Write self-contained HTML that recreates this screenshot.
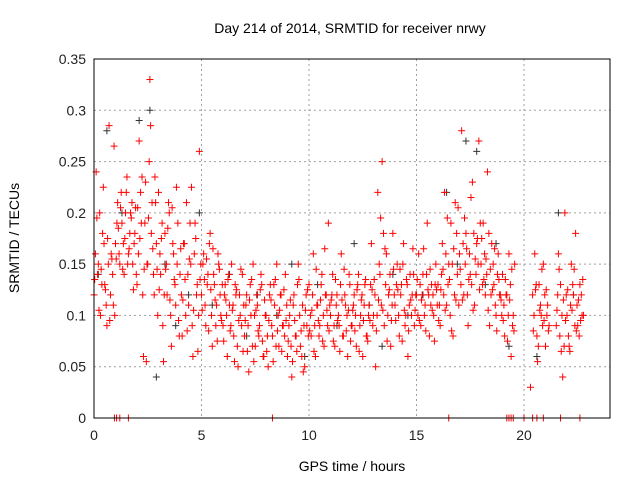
<!DOCTYPE html>
<html><head><meta charset="utf-8"><style>
body{margin:0;background:#fff;}
svg{display:block;font-family:"Liberation Sans",sans-serif;}
</style></head><body>
<svg id="chart" width="640" height="480" viewBox="0 0 640 480">
<text x="350" y="33" font-size="14" text-anchor="middle">Day 214 of 2014, SRMTID for receiver nrwy</text>
<text x="19" y="238" font-size="14" text-anchor="middle" transform="rotate(-90 19 238)">SRMTID / TECUs</text>
<text x="352" y="471" font-size="14" text-anchor="middle">GPS time / hours</text>
<g id="grid"></g><g id="ticks"></g><g id="marks"></g>
<rect x="94" y="59" width="516" height="359" fill="none" stroke="#000" stroke-width="1"/>
</svg>
<script>
const xTicks=[0,5,10,15,20];
const yTicks=[0,0.05,0.1,0.15,0.2,0.25,0.3,0.35];
const yTickLabels=["0","0.05","0.1","0.15","0.2","0.25","0.3","0.35"];
const step=0.1;
const redA=[0.12,0.24,0.15,0.10,0.18,0.13,0.09,0.285,0.16,0.11,
0.17,0.21,0.15,0.19,0.14,0.22,0.16,0.20,0.15,0.18,
0.13,0.27,0.19,0.06,0.23,0.15,0.33,0.21,0.12,0.17,
0.22,0.14,0.09,0.18,0.12,0.20,0.07,0.16,0.11,0.19,
0.14,0.08,0.17,0.21,0.11,0.15,0.06,0.19,0.13,0.26,
0.12,0.16,0.09,0.14,0.18,0.07,0.13,0.11,0.15,0.10,
0.09,0.13,0.06,0.11,0.15,0.08,0.12,0.05,0.10,0.14,
0.08,0.12,0.045,0.10,0.15,0.07,0.11,0.09,0.13,0.06,
0.10,0.05,0.13,0.08,0.11,0.15,0.07,0.12,0.09,0.14,
0.06,0.10,0.04,0.12,0.08,0.15,0.07,0.11,0.05,0.09,
0.13,0.08,0.16,0.06,0.11,0.09,0.14,0.07,0.12,0.19,
0.10,0.14,0.07,0.12,0.09,0.16,0.08,0.11,0.06,0.13,
0.09,0.12,0.07,0.14,0.10,0.06,0.13,0.08,0.11,0.17,
0.10,0.05,0.22,0.14,0.25,0.09,0.16,0.12,0.07,0.18,
0.11,0.15,0.08,0.13,0.17,0.10,0.06,0.14,0.12,0.09,
0.12,0.16,0.09,0.14,0.11,0.19,0.08,0.13,0.10,0.15,
0.13,0.09,0.17,0.22,0.11,0.15,0.19,0.08,0.21,0.14,
0.16,0.28,0.12,0.18,0.09,0.14,0.23,0.11,0.17,0.27,
0.15,0.19,0.12,0.24,0.09,0.17,0.13,0.10,0.16,0.12,
0.14,0.08,0.12,0.16,0.06,0.10,null,null,null,null,
null,null,null,0.03,0.12,0.16,0.08,0.13,0.10,0.15,
0.07,0.11,null,null,null,0.09,0.16,0.13,0.04,0.20,
0.10,0.07,0.15,0.12,0.18,0.09,0.13,0.10];
const redB=[0.16,0.14,0.20,0.13,0.17,0.11,0.15,0.12,0.14,0.10,
0.19,0.16,0.22,0.17,0.20,0.15,0.18,0.21,0.17,0.14,
0.16,0.22,0.12,0.19,0.15,0.25,0.18,0.14,0.21,0.10,
0.16,0.19,0.12,0.15,0.21,0.10,0.17,0.13,0.15,0.08,
0.12,0.17,0.10,0.14,0.19,0.09,0.16,0.12,0.10,0.15,
0.15,0.11,0.13,0.17,0.10,0.14,0.09,0.16,0.12,0.13,
0.12,0.10,0.14,0.09,0.11,0.13,0.07,0.12,0.09,0.11,
0.11,0.09,0.13,0.07,0.10,0.12,0.08,0.14,0.06,0.10,
0.08,0.12,0.09,0.13,0.07,0.10,0.12,0.09,0.08,0.11,
0.09,0.07,0.11,0.08,0.13,0.10,0.06,0.09,0.12,0.08,
0.10,0.12,0.09,0.11,0.08,0.13,0.10,0.12,0.09,0.11,
0.12,0.09,0.11,0.10,0.13,0.08,0.12,0.10,0.14,0.09,
0.11,0.10,0.13,0.09,0.12,0.11,0.08,0.10,0.13,0.09,
0.12,0.10,0.15,0.11,0.18,0.13,0.10,0.14,0.11,0.12,
0.13,0.10,0.12,0.15,0.09,0.13,0.11,0.10,0.14,0.12,
0.10,0.13,0.12,0.10,0.14,0.12,0.11,0.12,0.13,0.11,
0.11,0.14,0.12,0.16,0.13,0.10,0.15,0.12,0.18,0.11,
0.13,0.17,0.15,0.12,0.16,0.13,0.18,0.14,0.15,0.19,
0.13,0.16,0.14,0.18,0.12,0.15,0.11,0.14,0.12,0.10,
0.11,0.12,0.10,0.13,0.09,0.15,null,null,null,null,
null,null,null,null,0.10,0.13,0.07,0.11,0.09,0.12,
0.10,0.09,null,null,null,0.12,0.08,0.10,0.07,0.12,
0.08,0.11,0.13,0.09,0.11,0.08,0.12,0.10];
const redC=[0.135,0.195,0.105,0.145,0.225,0.125,0.175,0.095,0.155,0.265,
0.155,0.185,0.205,0.145,0.175,0.235,0.165,0.195,0.125,0.205,
0.205,0.175,0.235,0.145,0.055,0.195,0.285,0.165,0.235,0.145,
0.125,0.175,0.055,0.145,0.185,0.115,0.205,0.135,0.225,0.095,
0.165,0.115,0.135,0.085,0.155,0.225,0.105,0.175,0.065,0.135,
0.105,0.135,0.155,0.085,0.125,0.165,0.115,0.075,0.145,0.095,
0.075,0.115,0.135,0.085,0.105,0.055,0.125,0.095,0.145,0.065,
0.095,0.065,0.115,0.135,0.055,0.105,0.085,0.125,0.075,0.115,
0.065,0.095,0.115,0.055,0.135,0.085,0.105,0.065,0.125,0.095,
0.075,0.115,0.055,0.095,0.065,0.135,0.085,0.045,0.105,0.125,
0.085,0.105,0.065,0.145,0.095,0.115,0.075,0.165,0.105,0.085,
0.115,0.075,0.135,0.095,0.065,0.115,0.145,0.085,0.105,0.075,
0.105,0.085,0.125,0.065,0.115,0.095,0.135,0.075,0.095,0.125,
0.135,0.085,0.115,0.195,0.105,0.165,0.075,0.125,0.095,0.145,
0.095,0.125,0.145,0.075,0.105,0.135,0.085,0.115,0.165,0.105,
0.135,0.095,0.115,0.165,0.085,0.125,0.145,0.105,0.075,0.125,
0.095,0.125,0.145,0.105,0.195,0.135,0.085,0.165,0.115,0.205,
0.145,0.115,0.195,0.165,0.135,0.215,0.105,0.155,0.175,0.125,
0.175,0.135,0.155,0.105,0.145,0.125,0.165,0.085,0.135,0.115,
0.095,0.135,0.075,0.115,0.145,0.085,null,null,null,null,
null,null,null,null,0.085,0.125,0.055,0.105,0.145,0.095,
0.125,0.085,null,null,null,0.105,0.145,0.065,0.115,0.095,
0.125,0.065,0.105,0.145,0.085,0.115,0.095,0.135];
const blackT=[0.2,0.6,1.3,2.1,2.6,2.9,3.3,3.8,4.4,4.9,5.5,6.3,7.1,7.6,8.5,9.2,9.8,10.4,11.3,12.1,12.8,13.4,13.9,14.6,15.3,16.4,16.9,17.3,17.8,18.2,18.7,19.3,20.6,21.6,22.3];
const blackV=[0.14,0.28,0.20,0.29,0.30,0.04,0.15,0.09,0.12,0.20,0.11,0.14,0.08,0.12,0.10,0.15,0.06,0.13,0.09,0.17,0.11,0.07,0.14,0.10,0.12,0.22,0.15,0.27,0.26,0.13,0.17,0.07,0.06,0.20,0.12];
const zeroHours=[0.95,1.05,1.2,1.6,8.3,16.5,19.2,19.3,19.4,19.5,20.0,20.4,20.6,20.9,21.7,22.6];

const X=h=>94+h*21.5;
const Y=v=>418-v*(359/0.35);
const ns="http://www.w3.org/2000/svg";
const grid=document.getElementById('grid'),ticks=document.getElementById('ticks'),marks=document.getElementById('marks');
function mk(tag,attrs,parent){const e=document.createElementNS(ns,tag);for(const k in attrs)e.setAttribute(k,attrs[k]);parent.appendChild(e);return e;}
xTicks.forEach(t=>{
  const g=mk('line',{x1:X(t),x2:X(t),y1:59,y2:418,stroke:'#a0a0a0','stroke-dasharray':'2,3'},grid);
  
  
  const l=mk('text',{x:X(t),y:440,'font-size':14,'text-anchor':'middle',fill:'#222'},ticks);
  l.textContent=String(t);
  
  
});
yTicks.forEach((t,i)=>{
  const g=mk('line',{x1:94,x2:610,y1:Y(t),y2:Y(t),stroke:'#a0a0a0','stroke-dasharray':'2,3'},grid);
  
  
  const l=mk('text',{x:86,y:Y(t)+5,'font-size':14,'text-anchor':'end',fill:'#222'},ticks);
  l.textContent=yTickLabels[i];
  
  
});
function plus(h,v,color){
  const x=X(h),y=Y(v);
  const p=mk('path',{d:`M${x-3.5},${y}H${x+3.5}M${x},${y-3.5}V${y+3.5}`,stroke:color,'stroke-width':1,fill:'none'},marks);
  
  
}
blackT.forEach((t,i)=>plus(t,blackV[i],'#333'));
redA.forEach((v,i)=>{if(v!==null)plus(i*step,v,'#ff0000');});
redC.forEach((v,i)=>{if(v!==null)plus(i*step+0.033,v,'#ff0000');});
redB.forEach((v,i)=>{if(v!==null)plus(i*step+0.066,v,'#ff0000');});
zeroHours.forEach(h=>plus(h,0,'#ff0000'));
</script>
</body></html>
